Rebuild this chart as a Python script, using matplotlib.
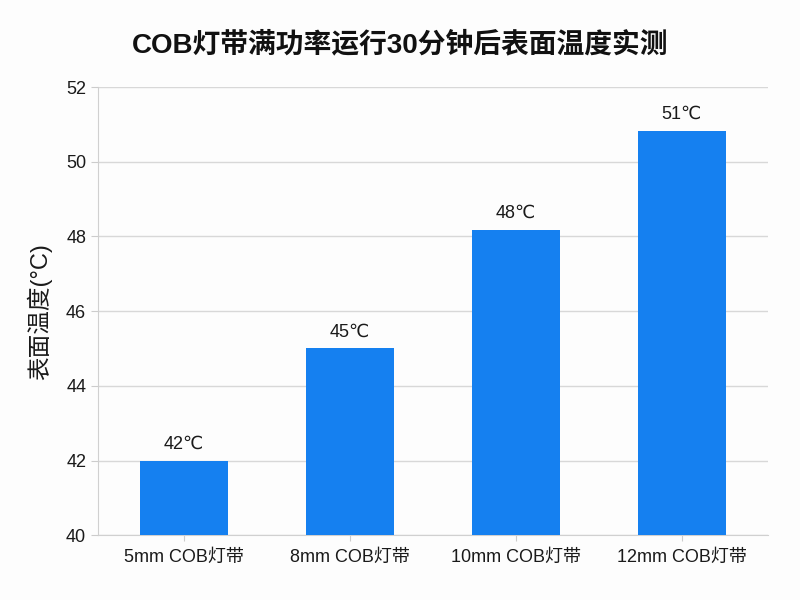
import matplotlib
matplotlib.use("Agg")
import matplotlib.pyplot as plt

plt.rcParams['font.family'] = ['Liberation Sans', 'Noto Sans CJK SC', 'DejaVu Sans']

categories = ['5mm COB灯带', '8mm COB灯带', '10mm COB灯带', '12mm COB灯带']
values = [42.0, 45.0, 48.18, 50.83]
labels = ['42℃', '45℃', '48℃', '51℃']
yticks = [40, 42, 44, 46, 48, 50, 52]

fig = plt.figure(figsize=(8, 6), dpi=100, facecolor='#fdfdfd')
ax = fig.add_axes([0.1225, 0.108, 0.8375, 0.747])
ax.set_facecolor('#fdfdfd')

x = range(len(categories))
bars = ax.bar(x, values, width=0.53, color='#1580F0', zorder=3)
for xi, v, lab in zip(x, values, labels):
    ax.text(xi, v + 0.2, lab, ha='center', va='bottom', fontsize=13, color='#1a1a1a',
            family=['Liberation Sans', 'DejaVu Sans', 'Noto Sans CJK SC'])

ax.set_xlim(-0.52, 3.52)
ax.set_ylim(40, 52)
ax.set_yticks(yticks)
ax.set_xticks(list(x))
ax.set_xticklabels(categories, fontsize=13, color='#1a1a1a')
ax.tick_params(axis='y', labelsize=13, colors='#1a1a1a', length=5, color='#cccccc')
ax.tick_params(axis='x', length=4, color='#cccccc', pad=6)
ax.grid(axis='y', color='#d8d8d8', linewidth=1, zorder=0)
for s in ['top', 'right']:
    ax.spines[s].set_visible(False)
ax.spines['left'].set_color('#d0d0d0')
ax.spines['bottom'].set_color('#d0d0d0')
ax.set_ylabel('表面温度(°C)', fontsize=17, color='#1a1a1a', labelpad=10)

fig.text(0.5, 0.925, 'COB灯带满功率运行30分钟后表面温度实测', ha='center', va='center',
         fontsize=20, fontweight='bold', color='#111111')

fig.savefig('out.png', dpi=100, facecolor=fig.get_facecolor())
